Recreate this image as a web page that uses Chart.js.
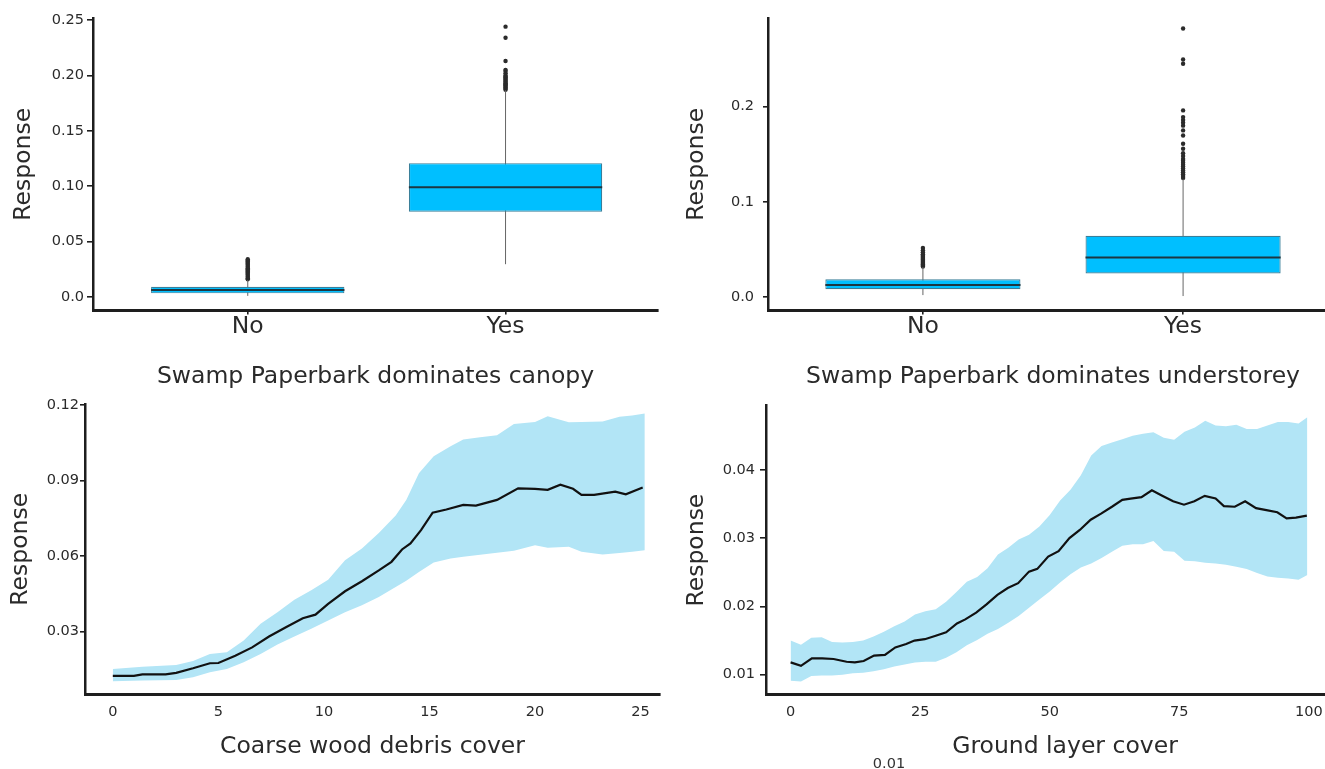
<!DOCTYPE html>
<html>
<head>
<meta charset="utf-8">
<script src="https://cdn.jsdelivr.net/npm/chart.js@4.4.1/dist/chart.umd.min.js"></script>
<style>
  html, body { margin: 0; padding: 0; background: #ffffff; }
  body { position: relative; width: 1325px; height: 769px; overflow: hidden; }
  canvas { position: absolute; }
  #stray { position: absolute; left: 889px; top: 762.5px; transform: translate(-50%, -50%);
           font: 14.5px 'DejaVu Sans', sans-serif; color: #333; white-space: nowrap; }
</style>
</head>
<body>
<canvas id="c1" width="662" height="392" style="left:0px;top:0px"></canvas>
<canvas id="c2" width="680" height="392" style="left:662px;top:0px"></canvas>
<canvas id="c3" width="662" height="377" style="left:0px;top:392px"></canvas>
<canvas id="c4" width="702" height="377" style="left:662px;top:392px"></canvas>
<div id="stray">0.01</div>
<script>
// ---------------- DATA ----------------
const boxCategories = ['No', 'Yes'];

// Panel A: Swamp Paperbark dominates canopy
const canopyQ1 = [0.0033, 0.077];
const canopyMedian = [0.0063, 0.099];
const canopyQ3 = [0.0093, 0.1208];
const canopyWhiskerLow = [0.001, 0.0296];
const canopyWhiskerHigh = [0.0153, 0.1866];
const canopyOutliersNo = [0.016, 0.017, 0.018, 0.019, 0.020, 0.021, 0.022, 0.023, 0.024, 0.025, 0.026, 0.027, 0.028, 0.029, 0.030, 0.031, 0.032, 0.033, 0.034];
const canopyOutliersYes = [0.187, 0.188, 0.189, 0.190, 0.191, 0.192, 0.193, 0.194, 0.195, 0.196, 0.197, 0.198, 0.199, 0.200, 0.202, 0.204, 0.205, 0.213, 0.234, 0.244];
const canopyYTicks = [0, 0.05, 0.10, 0.15, 0.20, 0.25];
const canopyYTickLabels = ['0.0', '0.05', '0.10', '0.15', '0.20', '0.25'];

// Panel B: Swamp Paperbark dominates understorey
const underQ1 = [0.0081, 0.0246];
const underMedian = [0.0126, 0.0415];
const underQ3 = [0.0186, 0.0643];
const underWhiskerLow = [0.002, 0.001];
const underWhiskerHigh = [0.0315, 0.124];
const underOutliersNo = [0.032, 0.033, 0.034, 0.035, 0.036, 0.037, 0.038, 0.039, 0.040, 0.041, 0.042, 0.043, 0.044, 0.045, 0.047, 0.049, 0.0515];
const underOutliersYes = [0.125, 0.127, 0.129, 0.131, 0.133, 0.135, 0.137, 0.139, 0.141, 0.143, 0.145, 0.148, 0.151, 0.1557, 0.161, 0.1696, 0.175, 0.180, 0.183, 0.186, 0.189, 0.196, 0.245, 0.2495, 0.282];
const underYTicks = [0, 0.1, 0.2];
const underYTickLabels = ['0.0', '0.1', '0.2'];

// Panel C: Coarse wood debris cover
const cwdX = [0, 1, 1.4, 2.5, 3, 3.8, 4.6, 5, 5.8, 6.6, 7.4, 8.2, 9, 9.6, 10.2, 11, 11.8, 12.6, 13.2, 13.7, 14.1, 14.6, 15.15, 15.8, 16.6, 17.2, 18.2, 19.2, 20, 20.6, 21.2, 21.8, 22.2, 22.8, 23.8, 24.3, 25.1];
const cwdMean = [0.0124, 0.0124, 0.0130, 0.0130, 0.0136, 0.0154, 0.0174, 0.0175, 0.0204, 0.0237, 0.0280, 0.0317, 0.0353, 0.0367, 0.0410, 0.0460, 0.0500, 0.0543, 0.0577, 0.0626, 0.0650, 0.0703, 0.0772, 0.0785, 0.0803, 0.0800, 0.0823, 0.0869, 0.0867, 0.0863, 0.0883, 0.0867, 0.0843, 0.0843, 0.0856, 0.0845, 0.0872];
const cwdBandX = [0, 1.4, 3, 3.8, 4.6, 5.4, 6.2, 7, 7.8, 8.6, 9.4, 10.2, 11, 11.8, 12.6, 13.4, 13.9, 14.5, 15.2, 16, 16.6, 17.4, 18.2, 19, 20, 20.6, 21.6, 22.2, 23.2, 24, 24.6, 25.2];
const cwdUpper = [0.0151, 0.0160, 0.0167, 0.0183, 0.0211, 0.0218, 0.0264, 0.0331, 0.0377, 0.0426, 0.0464, 0.0506, 0.0583, 0.0630, 0.0691, 0.0761, 0.0823, 0.0929, 0.0996, 0.1036, 0.1063, 0.1072, 0.1080, 0.1125, 0.1132, 0.1155, 0.1131, 0.1132, 0.1134, 0.1153, 0.1158, 0.1166];
const cwdLower = [0.0102, 0.0105, 0.0107, 0.0118, 0.0138, 0.0151, 0.0178, 0.0211, 0.0248, 0.0280, 0.0311, 0.0344, 0.0377, 0.0404, 0.0437, 0.0477, 0.0502, 0.0537, 0.0574, 0.0590, 0.0597, 0.0605, 0.0613, 0.0621, 0.0643, 0.0633, 0.0637, 0.0617, 0.0606, 0.0612, 0.0617, 0.0623];
const cwdXTicks = [0, 5, 10, 15, 20, 25];
const cwdXTickLabels = ['0', '5', '10', '15', '20', '25'];
const cwdYTicks = [0.03, 0.06, 0.09, 0.12];
const cwdYTickLabels = ['0.03', '0.06', '0.09', '0.12'];

// Panel D: Ground layer cover
const glcX = [0, 2, 4.1, 6.1, 8.3, 10.8, 12.4, 14.1, 16.1, 18.2, 20.2, 22.3, 23.9, 25.9, 28, 30, 32.1, 33.7, 35.8, 37.8, 39.9, 41.9, 43.9, 46, 47.6, 49.7, 51.7, 53.8, 55.8, 57.9, 59.9, 62, 64, 65.6, 67.7, 69.7, 71.7, 73.8, 75.9, 77.9, 79.9, 82, 83.6, 85.7, 87.7, 89.8, 91.8, 93.9, 95.7, 97.5, 99.6];
const glcMean = [0.0118, 0.0113, 0.0124, 0.0124, 0.0123, 0.0119, 0.0118, 0.0120, 0.0128, 0.0129, 0.0140, 0.0145, 0.0150, 0.0152, 0.0157, 0.0162, 0.0175, 0.0181, 0.0191, 0.0203, 0.0217, 0.0227, 0.0234, 0.0251, 0.0255, 0.0273, 0.0281, 0.0300, 0.0312, 0.0327, 0.0336, 0.0346, 0.0356, 0.0358, 0.0360, 0.0370, 0.0362, 0.0354, 0.0349, 0.0354, 0.0362, 0.0358, 0.0347, 0.0346, 0.0354, 0.0344, 0.0341, 0.0338, 0.0329, 0.0330, 0.0333];
const glcBandX = [0, 2, 4, 6, 8, 10, 12, 14, 16, 18, 20, 22, 24, 26, 28, 30, 32, 34, 36, 38, 40, 42, 44, 46, 48, 50, 52, 54, 56, 58, 60, 62, 64, 66, 68, 70, 72, 74, 76, 78, 80, 82, 84, 86, 88, 90, 92, 94, 96, 98, 99.7];
const glcUpper = [0.0150, 0.0144, 0.0154, 0.0155, 0.0148, 0.0147, 0.0148, 0.0150, 0.0156, 0.0163, 0.0171, 0.0178, 0.0188, 0.0193, 0.0196, 0.0207, 0.0221, 0.0236, 0.0243, 0.0256, 0.0276, 0.0286, 0.0298, 0.0305, 0.0317, 0.0334, 0.0355, 0.0371, 0.0392, 0.0421, 0.0435, 0.0440, 0.0445, 0.0450, 0.0453, 0.0455, 0.0447, 0.0444, 0.0456, 0.0462, 0.0472, 0.0465, 0.0464, 0.0466, 0.0460, 0.0460, 0.0465, 0.0470, 0.0470, 0.0468, 0.0477];
const glcLower = [0.0091, 0.0090, 0.0098, 0.0099, 0.0099, 0.0100, 0.0102, 0.0103, 0.0105, 0.0108, 0.0112, 0.0115, 0.0118, 0.0119, 0.0119, 0.0125, 0.0133, 0.0143, 0.0151, 0.0160, 0.0167, 0.0176, 0.0186, 0.0198, 0.0210, 0.0222, 0.0235, 0.0247, 0.0257, 0.0263, 0.0271, 0.0280, 0.0289, 0.0291, 0.0291, 0.0296, 0.0281, 0.0280, 0.0267, 0.0266, 0.0264, 0.0263, 0.0261, 0.0258, 0.0255, 0.0249, 0.0244, 0.0242, 0.0241, 0.0239, 0.0246];
const glcXTicks = [0, 25, 50, 75, 100];
const glcXTickLabels = ['0', '25', '50', '75', '100'];
const glcYTicks = [0.01, 0.02, 0.03, 0.04];
const glcYTickLabels = ['0.01', '0.02', '0.03', '0.04'];

// ---------------- STYLE ----------------
Chart.defaults.font.family = "'DejaVu Sans', sans-serif";
Chart.defaults.color = '#2a2a2a';
const INK = '#1e1e1e';
const TEXT = '#2a2a2a';
const BOX_FILL = '#00bfff';
const BOX_EDGE = '#3a7f99';
const MEDIAN = '#1c3742';
const WHISKER = '#666666';
const BAND = '#b2e5f6';
const BOX_FRACTION = 0.75;
const TICK_FONT = 14.5;

const fixedWidth = w => s => { s.width = w; };
const fixedHeight = h => s => { s.height = h; };
const setTicks = values => s => { s.ticks = values.map(v => ({ value: v })); };

function yAxis(o) {
  return {
    type: 'linear', min: o.min, max: o.max, offset: false,
    afterBuildTicks: setTicks(o.ticks),
    afterFit: fixedWidth(o.width),
    border: { display: true, color: INK, width: 2.5 },
    grid: { display: true, drawOnChartArea: false, drawTicks: true, tickLength: o.tickLength, color: INK, lineWidth: 1.6, offset: false },
    ticks: { font: { size: TICK_FONT }, color: TEXT, padding: o.pad, autoSkip: false, callback: (v, i) => o.labels[i] },
    title: { display: true, text: 'Response', color: TEXT, font: { size: 23.5 }, padding: { top: o.titlePad, bottom: 0 } }
  };
}

function xAxis(o) {
  return {
    type: 'linear', min: o.min, max: o.max, offset: false,
    afterBuildTicks: setTicks(o.ticks),
    afterFit: fixedHeight(o.height),
    border: { display: true, color: INK, width: 3 },
    grid: { display: true, drawOnChartArea: false, drawTicks: o.tickLength > 0, tickLength: o.tickLength, color: INK, lineWidth: 1.6, offset: false },
    ticks: { font: { size: o.fontSize }, color: TEXT, padding: o.pad, autoSkip: false, maxRotation: 0, callback: (v, i) => o.labels[i] },
    title: { display: true, text: o.title, color: TEXT, font: { size: 23.5 }, padding: { top: 0, bottom: o.titlePad } }
  };
}

const baseOptions = (padding, scales) => ({
  responsive: false, animation: false, events: [],
  layout: { padding },
  plugins: { legend: { display: false }, tooltip: { enabled: false } },
  scales
});

function boxChart(id, d, layout) {
  const half = BOX_FRACTION / 2;
  const datasets = [];
  boxCategories.forEach((c, i) => {
    datasets.push({ type: 'line', data: [{ x: i + 1 - half, y: d.median[i] }, { x: i + 1 + half, y: d.median[i] }],
      borderColor: MEDIAN, borderWidth: 2, pointRadius: 0 });
  });
  datasets.push({ type: 'bar', data: boxCategories.map((c, i) => ({ x: i + 1, y: [d.q1[i], d.q3[i]] })),
    backgroundColor: BOX_FILL, borderColor: BOX_EDGE, borderWidth: 1.2, borderSkipped: false,
    categoryPercentage: BOX_FRACTION, barPercentage: 1 });
  boxCategories.forEach((c, i) => {
    datasets.push({ type: 'line', data: [{ x: i + 1, y: d.lo[i] }, { x: i + 1, y: d.hi[i] }],
      borderColor: WHISKER, borderWidth: 1, pointRadius: 0 });
  });
  datasets.push({ type: 'scatter', data: d.outliers.flatMap((arr, i) => arr.map(v => ({ x: i + 1, y: v }))),
    pointRadius: 2.2, pointBackgroundColor: '#2b2b2b', pointBorderWidth: 0, backgroundColor: '#2b2b2b', borderWidth: 0 });

  new Chart(document.getElementById(id), {
    type: 'bar',
    data: { datasets },
    options: baseOptions(layout.padding, {
      x: xAxis({ min: layout.xMin, max: layout.xMax, ticks: [1, 2], labels: boxCategories, height: layout.xHeight,
        tickLength: 4, pad: -1.6, fontSize: 23.5, title: d.title, titlePad: 0.9 }),
      y: yAxis({ min: layout.yMin, max: layout.yMax, ticks: d.yTicks, labels: d.yLabels, width: layout.yWidth,
        tickLength: layout.tickLength, pad: layout.tickPad, titlePad: layout.titlePad })
    })
  });
}

function curveChart(id, d, layout) {
  const pts = (xs, ys) => xs.map((x, i) => ({ x, y: ys[i] }));
  new Chart(document.getElementById(id), {
    type: 'line',
    data: { datasets: [
      { data: pts(d.x, d.mean), borderColor: '#111111', borderWidth: 2.2, pointRadius: 0, fill: false },
      { data: pts(d.bandX, d.upper), borderColor: 'rgba(0,0,0,0)', borderWidth: 0, pointRadius: 0, backgroundColor: BAND, fill: '+1' },
      { data: pts(d.bandX, d.lower), borderColor: 'rgba(0,0,0,0)', borderWidth: 0, pointRadius: 0, fill: false }
    ] },
    options: baseOptions(layout.padding, {
      x: xAxis({ min: layout.xMin, max: layout.xMax, ticks: d.xTicks, labels: d.xLabels, height: layout.xHeight,
        tickLength: 0, pad: 9, fontSize: TICK_FONT, title: d.title, titlePad: 7.6 }),
      y: yAxis({ min: layout.yMin, max: layout.yMax, ticks: d.yTicks, labels: d.yLabels, width: layout.yWidth,
        tickLength: layout.tickLength, pad: layout.tickPad, titlePad: layout.titlePad })
    })
  });
}

boxChart('c1', {
  q1: canopyQ1, median: canopyMedian, q3: canopyQ3, lo: canopyWhiskerLow, hi: canopyWhiskerHigh,
  outliers: [canopyOutliersNo, canopyOutliersYes], yTicks: canopyYTicks, yLabels: canopyYTickLabels,
  title: 'Swamp Paperbark dominates canopy'
}, { padding: { top: 18, right: 2, left: 0, bottom: 0 }, xMin: 0.3997, xMax: 2.5914, yMin: -0.0122, yMax: 0.2518,
     xHeight: 81.5, yWidth: 93, tickLength: 6, tickPad: 3, titlePad: 9.7 });

boxChart('c2', {
  q1: underQ1, median: underMedian, q3: underQ3, lo: underWhiskerLow, hi: underWhiskerHigh,
  outliers: [underOutliersNo, underOutliersYes], yTicks: underYTicks, yLabels: underYTickLabels,
  title: 'Swamp Paperbark dominates understorey'
}, { padding: { top: 18, right: 0, left: 0, bottom: 0 }, xMin: 0.4046, xMax: 2.5954, yMin: -0.0142, yMax: 0.2931,
     xHeight: 81.5, yWidth: 106, tickLength: 5, tickPad: 9, titlePad: 20.9 });

curveChart('c3', {
  x: cwdX, mean: cwdMean, bandX: cwdBandX, upper: cwdUpper, lower: cwdLower,
  xTicks: cwdXTicks, xLabels: cwdXTickLabels, yTicks: cwdYTicks, yLabels: cwdYTickLabels,
  title: 'Coarse wood debris cover'
}, { padding: { top: 12, right: 2, left: 0, bottom: 0 }, xMin: -1.317, xMax: 25.92, yMin: 0.00498, yMax: 0.1204,
     xHeight: 74.5, yWidth: 85, tickLength: 5, tickPad: 1, titlePad: 6.3 });

curveChart('c4', {
  x: glcX, mean: glcMean, bandX: glcBandX, upper: glcUpper, lower: glcLower,
  xTicks: glcXTicks, xLabels: glcXTickLabels, yTicks: glcYTicks, yLabels: glcYTickLabels,
  title: 'Ground layer cover'
}, { padding: { top: 11, right: 0, left: 0, bottom: 0 }, xMin: -4.746, xMax: 110.63, yMin: 0.0071, yMax: 0.0494,
     xHeight: 74.5, yWidth: 104, tickLength: 6, tickPad: 5, titlePad: 20.9 });
</script>
</body>
</html>
